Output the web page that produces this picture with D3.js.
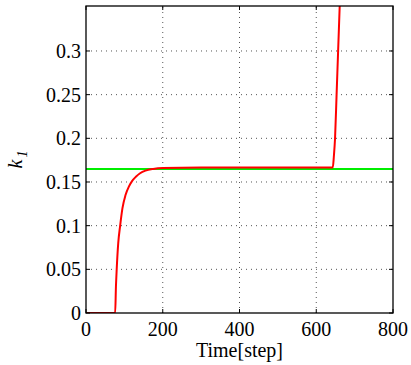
<!DOCTYPE html>
<html><head><meta charset="utf-8">
<script src="https://cdn.jsdelivr.net/npm/d3@7"></script>
<style>
body{margin:0;background:#fff}
#wrap{position:relative;width:411px;height:365px}
svg{display:block;position:absolute;left:0;top:0}
.lbl{position:absolute;left:0;top:0;white-space:nowrap;font-family:"Liberation Serif","Times New Roman",serif;font-size:20px;line-height:20px;color:#000;transform-origin:0 0}
</style>
</head><body><div id="wrap"><svg id="c" width="411" height="365"></svg></div>
<script>
const xTicks=[0,200,400,600,800];
const yTicks=[0,0.05,0.1,0.15,0.2,0.25,0.3];
const yTickLabels=["0","0.05","0.1","0.15","0.2","0.25","0.3"];
const redT=[0,76,78,80,84,89,95,103,112,120,130,141,155,175,200,300,400,500,600,643,646,649,653,657,661,665];
const redV=[0,0,0.03,0.05,0.08,0.1,0.12,0.135,0.145,0.151,0.156,0.16,0.163,0.165,0.166,0.1665,0.1665,0.1665,0.1665,0.1665,0.18,0.2,0.25,0.3,0.35,0.4];
const greenT=[0,800];
const greenV=[0.165,0.165];

const svg=d3.select("#c");
const wrap=d3.select("#wrap");
const L=86,R=393,T=6,B=313;
const x=d3.scaleLinear().domain([0,800]).range([L,R]);
const y=d3.scaleLinear().domain([0,0.3515]).range([B,T]);
const ASC=16.75; // baseline offset inside a 20px line box

// grid
const g=svg.append("g");
g.selectAll("line.vx").data(xTicks.slice(1,-1)).join("line")
 .attr("x1",d=>x(d)).attr("x2",d=>x(d)).attr("y1",B).attr("y2",T)
 .attr("stroke","#555").attr("stroke-width",1).attr("stroke-dasharray","1,4");
g.selectAll("line.hy").data(yTicks.slice(1)).join("line")
 .attr("y1",d=>y(d)).attr("y2",d=>y(d)).attr("x1",L).attr("x2",R)
 .attr("stroke","#555").attr("stroke-width",1).attr("stroke-dasharray","1,4");

svg.append("clipPath").attr("id","clip").append("rect").attr("x",L).attr("y",T).attr("width",R-L).attr("height",B-T);
const line=d3.line().x(d=>x(d[0])).y(d=>y(d[1]));
svg.append("path").datum(greenT.map((t,i)=>[t,greenV[i]])).attr("d",line)
 .attr("fill","none").attr("stroke","#00ee00").attr("stroke-width",2).attr("clip-path","url(#clip)");
svg.append("path").datum(redT.map((t,i)=>[t,redV[i]])).attr("d",d3.line().x(d=>x(d[0])).y(d=>y(d[1])).curve(d3.curveMonotoneX))
 .attr("fill","none").attr("stroke","#ff0000").attr("stroke-width",2).attr("clip-path","url(#clip)");

// tick marks (inward) on all four sides
const tk=svg.append("g").attr("stroke","#000").attr("stroke-width",1);
tk.selectAll("line.b").data(xTicks).join("line").attr("x1",d=>x(d)).attr("x2",d=>x(d)).attr("y1",B).attr("y2",B-4);
tk.selectAll("line.t").data(xTicks).join("line").attr("x1",d=>x(d)).attr("x2",d=>x(d)).attr("y1",T).attr("y2",T+4);
tk.selectAll("line.l").data(yTicks).join("line").attr("y1",d=>y(d)).attr("y2",d=>y(d)).attr("x1",L).attr("x2",L+4);
tk.selectAll("line.r").data(yTicks).join("line").attr("y1",d=>y(d)).attr("y2",d=>y(d)).attr("x1",R).attr("x2",R-4);

svg.append("rect").attr("x",L).attr("y",T).attr("width",R-L).attr("height",B-T).attr("fill","none").attr("stroke","#000").attr("stroke-width",1.3);

// text labels (HTML, serif)
wrap.selectAll("div.xt").data(xTicks).join("div").attr("class","lbl xt")
 .style("transform",d=>`translate(${x(d)}px,${B+23-ASC}px) translateX(-50%)`)
 .text(d3.format("d"));
wrap.selectAll("div.yt").data(yTicks).join("div").attr("class","lbl yt")
 .style("transform",d=>`translate(${L-5}px,${y(d)+6.6-ASC}px) translateX(-100%)`)
 .text((d,i)=>yTickLabels[i]);
wrap.append("div").attr("class","lbl")
 .style("transform",`translate(${(L+R)/2}px,${357-ASC}px) translateX(-50%)`)
 .text("Time[step]");
const yl=wrap.append("div").attr("class","lbl")
 .style("transform",`translate(22px,${(T+B)/2}px) rotate(-90deg) translate(-50%,${-ASC}px)`)
 .style("font-style","italic");
yl.append("span").text("k");
yl.append("span").style("font-size","14px").style("position","relative").style("top","5px").style("margin-left","2px").text("1");
</script></body></html>
